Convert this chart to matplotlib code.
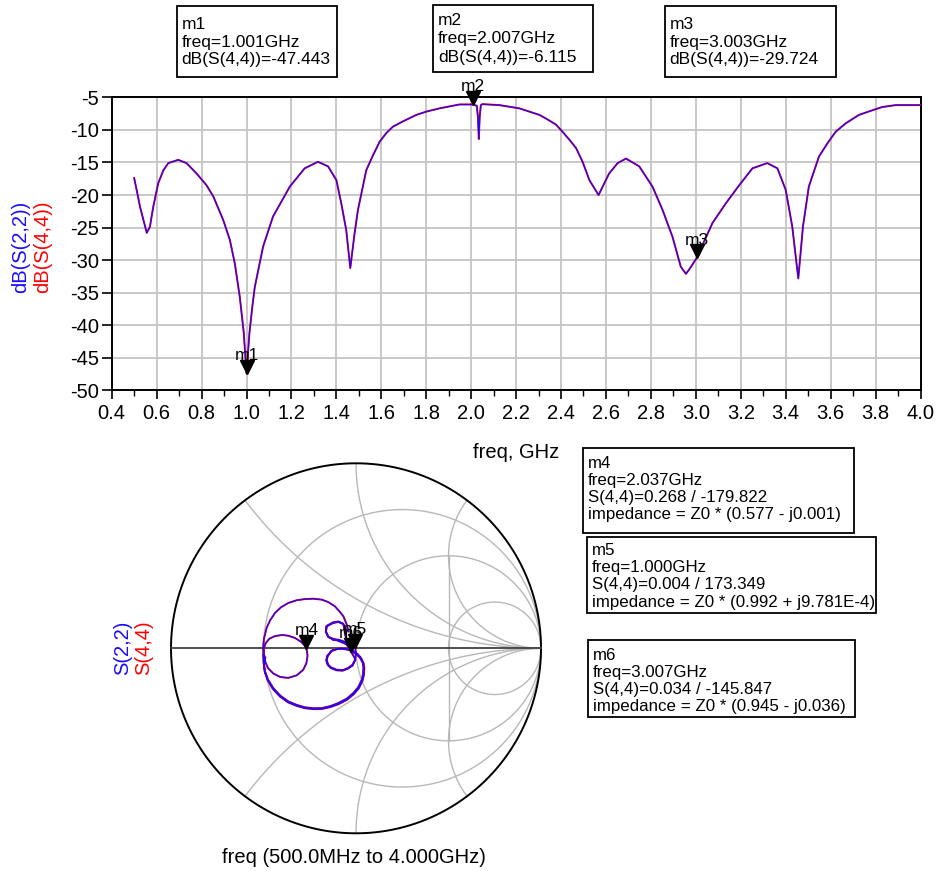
import numpy as np
import matplotlib
matplotlib.use("Agg")
import matplotlib.pyplot as plt
from matplotlib.patches import Rectangle
from matplotlib import transforms

plt.rcParams["font.family"] = ["Liberation Sans", "DejaVu Sans"]
plt.rcParams["axes.unicode_minus"] = False

# --- data ---

freq_ghz = [0.50, 0.511, 0.526, 0.541, 0.556, 0.570, 0.585, 0.607, 0.630, 0.652, 0.696,
            0.733, 0.778, 0.822, 0.852, 0.896, 0.926, 0.948, 0.970, 0.988, 1.000, 1.013,
            1.026, 1.037, 1.074, 1.118, 1.193, 1.259, 1.318, 1.363, 1.400, 1.422, 1.444,
            1.462, 1.481, 1.496, 1.533, 1.563, 1.593, 1.622, 1.652, 1.696, 1.756, 1.800,
            1.859, 1.948, 2.007, 2.025, 2.030, 2.034, 2.038, 2.043, 2.050, 2.126, 2.215,
            2.259, 2.304, 2.340, 2.378, 2.407, 2.437, 2.467, 2.496,
            2.526, 2.567, 2.614, 2.652, 2.689, 2.748, 2.807, 2.852, 2.896, 2.933, 2.956,
            2.975, 3.003, 3.074, 3.133, 3.193, 3.252, 3.318, 3.363, 3.400, 3.429, 3.456,
            3.477, 3.503, 3.548, 3.585, 3.622, 3.667, 3.726, 3.785, 3.829, 3.889, 4.000]
db_s44 = [-17.4, -19.2, -21.8, -23.8, -25.8, -24.9, -21.8, -18.2, -16.2, -15.1, -14.6,
          -15.1, -16.7, -18.5, -20.2, -23.8, -26.9, -30.5, -35.6, -41.2, -47.4, -41.2,
          -37.1, -34.1, -27.9, -23.3, -18.7, -15.9, -14.9, -15.6, -17.7, -21.3, -25.4,
          -31.2, -25.9, -22.3, -16.2, -13.9, -11.8, -10.5, -9.5, -8.7, -7.7, -7.2,
          -6.7, -6.1, -6.1, -6.3, -8.0, -11.4, -8.0, -6.2, -6.05, -6.2, -6.7,
          -7.2, -7.7, -8.4, -9.2, -10.3, -11.5, -12.8, -14.9,
          -17.7, -20.0, -16.7, -15.1, -14.4, -15.6, -18.7, -22.3, -26.4, -31.0, -32.1,
          -31.2, -29.7, -24.3, -21.3, -18.5, -15.9, -15.1, -15.9, -19.2, -24.8, -32.8,
          -24.8, -18.7, -14.1, -12.1, -10.3, -9.0, -7.7, -7.0, -6.5, -6.2, -6.2]
db_s22 = db_s44  # the two traces sit on top of each other

# reflection coefficient S(4,4), 0.5 -> 4 GHz, (real, imag)
gamma_re = [
    -0.125, -0.096, -0.06, -0.045, -0.059, -0.068, -0.095, -0.123, -0.158, -0.162, -0.150,
    -0.12, -0.07, -0.004,
    0.0, -0.005, -0.02, -0.042, -0.07, -0.104, -0.135, -0.150, -0.158, -0.153, -0.131,
    -0.10, -0.077, -0.045, -0.023,
    0.005, 0.022, 0.037, 0.040, 0.038, 0.031, 0.012, -0.015, -0.05, -0.096, -0.14, -0.185,
    -0.23, -0.276, -0.32, -0.366, -0.41, -0.447, -0.475, -0.492, -0.50, -0.502, -0.498,
    -0.488, -0.468, -0.438, -0.40, -0.366, -0.33, -0.298, -0.276, -0.266, -0.262, -0.268,
    -0.285, -0.32, -0.366, -0.41, -0.447, -0.475, -0.490, -0.496,
    -0.502, -0.498, -0.483, -0.465, -0.438, -0.405, -0.366, -0.32, -0.276, -0.23, -0.185,
    -0.15, -0.114, -0.09, -0.068, -0.05, -0.04,
    -0.06, -0.07, -0.095, -0.125, -0.16, -0.163, -0.148, -0.122, -0.094, -0.06, -0.035,
    -0.028,
    -0.02, -0.003, -0.018, -0.044, -0.072, -0.106, -0.137, -0.153, -0.161, -0.156, -0.133,
    -0.10, -0.075, -0.04, -0.02,
    0.008, 0.026, 0.041, 0.045, 0.043, 0.036, 0.016, -0.012, -0.048, -0.094, -0.14, -0.185,
    -0.23, -0.276, -0.322, -0.368, -0.412, -0.45, -0.478, -0.494, -0.498, -0.49]
gamma_im = [
    0.048, 0.047, 0.035, 0.025, 0.074, 0.131, 0.142, 0.137, 0.119, 0.09, 0.062,
    0.05, 0.03, 0.0005,
    -0.03, -0.063, -0.09, -0.106, -0.118, -0.116, -0.103, -0.089, -0.065, -0.043, -0.012,
    -0.002, 0.0, -0.005, -0.016,
    -0.035, -0.052, -0.08, -0.106, -0.14, -0.170, -0.21, -0.242, -0.272, -0.296, -0.313,
    -0.323, -0.324, -0.319, -0.306, -0.287, -0.255, -0.215, -0.17, -0.124, -0.075, -0.035,
    0.0,
    0.028, 0.052, 0.066, 0.072, 0.068, 0.056, 0.036, 0.014, -0.01, -0.04, -0.08,
    -0.116, -0.146, -0.160, -0.155, -0.136, -0.108, -0.074, -0.036,
    0.0, 0.05, 0.110, 0.15, 0.191, 0.222, 0.245, 0.26, 0.266, 0.268, 0.263,
    0.25, 0.227, 0.2, 0.173, 0.128, 0.09,
    0.11, 0.133, 0.145, 0.14, 0.12, 0.088, 0.06, 0.046, 0.044, 0.03, 0.0,
    -0.019,
    -0.03, -0.06, -0.093, -0.11, -0.121, -0.119, -0.106, -0.09, -0.066, -0.041, -0.015,
    -0.004, -0.003, -0.008, -0.012,
    -0.03, -0.05, -0.08, -0.108, -0.142, -0.174, -0.215, -0.248, -0.278, -0.302, -0.318,
    -0.328, -0.329, -0.324, -0.311, -0.292, -0.26, -0.219, -0.172, -0.126, -0.08, -0.05]

rect_markers = {"m1": (1.001, -47.443), "m2": (2.007, -6.115), "m3": (3.003, -29.724)}
smith_markers = {"m4": (-0.268, -0.001), "m6": (-0.028, -0.019), "m5": (-0.004, 0.0005)}

box_lines = {
    "m1": ["m1", "freq=1.001GHz", "dB(S(4,4))=-47.443"],
    "m2": ["m2", "freq=2.007GHz", "dB(S(4,4))=-6.115"],
    "m3": ["m3", "freq=3.003GHz", "dB(S(4,4))=-29.724"],
    "m4": ["m4", "freq=2.037GHz", "S(4,4)=0.268 / -179.822", "impedance = Z0 * (0.577 - j0.001)"],
    "m5": ["m5", "freq=1.000GHz", "S(4,4)=0.004 / 173.349", "impedance = Z0 * (0.992 + j9.781E-4)"],
    "m6": ["m6", "freq=3.007GHz", "S(4,4)=0.034 / -145.847", "impedance = Z0 * (0.945 - j0.036)"],
}

W, H = 938, 871
BLUE = "#1a0aff"
RED = "#ff0000"
FS = 14.5
FS_BOX = 12.5
FS_SMITH_BOX = 12.2

fig = plt.figure(figsize=(W / 100, H / 100), dpi=100)


def px_axes(left, top, right, bottom):
    return [left / W, 1 - bottom / H, (right - left) / W, (bottom - top) / H]


# --- rectangular plot ---
ax = fig.add_axes(px_axes(111.7, 97.3, 920.5, 390.5))
ax.plot(freq_ghz, db_s44, color=RED, lw=1.4, zorder=3)
ax.plot(freq_ghz, db_s22, color=BLUE, lw=0.9, zorder=4)
ax.set_xlim(0.4, 4.0)
ax.set_ylim(-50, -5)
ax.set_xticks(np.arange(0.4, 4.01, 0.2))
ax.set_xticks(np.arange(0.5, 4.0, 0.2), minor=True)
ax.set_yticks(np.arange(-50, -4, 5))
ax.set_xticklabels([f"{v:.1f}" for v in np.arange(0.4, 4.01, 0.2)])
ax.grid(True, which="major", color="#c4c4c4", lw=1.3)
ax.set_axisbelow(True)
for s in ax.spines.values():
    s.set_linewidth(1.4)
ax.tick_params(axis="y", direction="out", length=7, width=1.2, labelsize=FS, pad=2)
ax.tick_params(axis="x", which="major", direction="out", length=6.5, width=1.2,
               labelsize=FS, pad=3)
ax.tick_params(axis="x", which="minor", direction="out", length=4, width=1.0)

tri = transforms.offset_copy(ax.transData, fig=fig, x=0, y=5, units="points")
for name, (fx, fy) in rect_markers.items():
    ax.plot(fx, fy, marker="v", ms=10, color="black", transform=tri, zorder=6,
            clip_on=False)
    ax.annotate(name, (fx, fy), xytext=(0, 10), textcoords="offset points",
                ha="center", va="baseline", fontsize=FS_BOX, zorder=7,
                annotation_clip=False)

# --- smith chart ---
cx, cy, rad = 356, 648.3, 185
sx = fig.add_axes(px_axes(cx - rad * 1.02, cy - rad * 1.02, cx + rad * 1.02, cy + rad * 1.02))
sx.set_xlim(-1.02, 1.02)
sx.set_ylim(-1.02, 1.02)
sx.axis("off")

grid_kw = dict(color="#b8b8b8", lw=1.0, zorder=1)
t = np.linspace(-np.pi / 2 + 1e-4, np.pi / 2 - 1e-4, 600)
for r in [1 / 3, 1, 3]:
    g = (r + 1j * np.tan(t) - 1) / (r + 1j * np.tan(t) + 1)
    sx.plot(g.real, g.imag, **grid_kw)
tt = np.linspace(0, np.pi / 2 - 1e-4, 600)
for x in [0.5, 1, 2, -0.5, -1, -2]:
    z = np.tan(tt) + 1j * x
    g = (z - 1) / (z + 1)
    sx.plot(g.real, g.imag, **grid_kw)
sx.plot([0.5, 0.5], [-0.5, 0.5], **grid_kw)

phi = np.linspace(0, 2 * np.pi, 400)
sx.plot(np.cos(phi), np.sin(phi), color="black", lw=1.4, zorder=2)
sx.plot([-1, 1], [0, 0], color="#404040", lw=1.3, zorder=2)

sx.plot(gamma_re, gamma_im, color=RED, lw=1.4, zorder=3)
sx.plot(gamma_re, gamma_im, color=BLUE, lw=0.9, zorder=4)

stri = transforms.offset_copy(sx.transData, fig=fig, x=0, y=5, units="points")
for name, (gx, gy) in smith_markers.items():
    sx.plot(gx, gy, marker="v", ms=10, color="black", transform=stri, zorder=6)
    sx.annotate(name, (gx, gy), xytext=(0, 10), textcoords="offset points",
                ha="center", va="baseline", fontsize=FS_BOX, zorder=7)

# --- overlay for labels and marker boxes (pixel coordinates) ---
ov = fig.add_axes([0, 0, 1, 1], zorder=10)
ov.set_xlim(0, W)
ov.set_ylim(H, 0)
ov.axis("off")
ov.patch.set_alpha(0)

ov.text(21, 246.7, "dB(S(2,2))", color=BLUE, rotation=90, ha="center", va="center", fontsize=FS)
ov.text(42.5, 246.7, "dB(S(4,4))", color=RED, rotation=90, ha="center", va="center", fontsize=FS)
ov.text(123, 648, "S(2,2)", color=BLUE, rotation=90, ha="center", va="center", fontsize=FS)
ov.text(144, 648, "S(4,4)", color=RED, rotation=90, ha="center", va="center", fontsize=FS)
ov.text(516, 452, "freq, GHz", ha="center", va="center", fontsize=FS)
ov.text(354, 857, "freq (500.0MHz to 4.000GHz)", ha="center", va="center", fontsize=FS)

# box: (left, top, right, bottom), text x, first baseline, line step, font size
box_geom = {
    "m1": ((177, 6, 337, 77), 181.5, 29.3, 17.5, FS_BOX),
    "m2": ((433, 5, 593, 72.5), 438, 25.0, 18.3, FS_BOX),
    "m3": ((665, 6, 836, 77), 669.5, 29.3, 17.5, FS_BOX),
    "m4": ((583, 448, 854, 533), 588, 468.3, 16.9, FS_SMITH_BOX),
    "m5": ((586.7, 536.7, 876, 613.3), 591.5, 555.0, 17.2, FS_SMITH_BOX),
    "m6": ((588.3, 640, 855, 716.7), 593, 660.0, 16.9, FS_SMITH_BOX),
}
for name, ((l, tp, r, b), tx, base, step, fs) in box_geom.items():
    ov.add_patch(Rectangle((l, tp), r - l, b - tp, fill=True, facecolor="white",
                           edgecolor="black", lw=1.3))
    for i, line in enumerate(box_lines[name]):
        ov.text(tx, base + i * step, line, ha="left", va="baseline", fontsize=fs)

fig.savefig("out.png", dpi=100)
